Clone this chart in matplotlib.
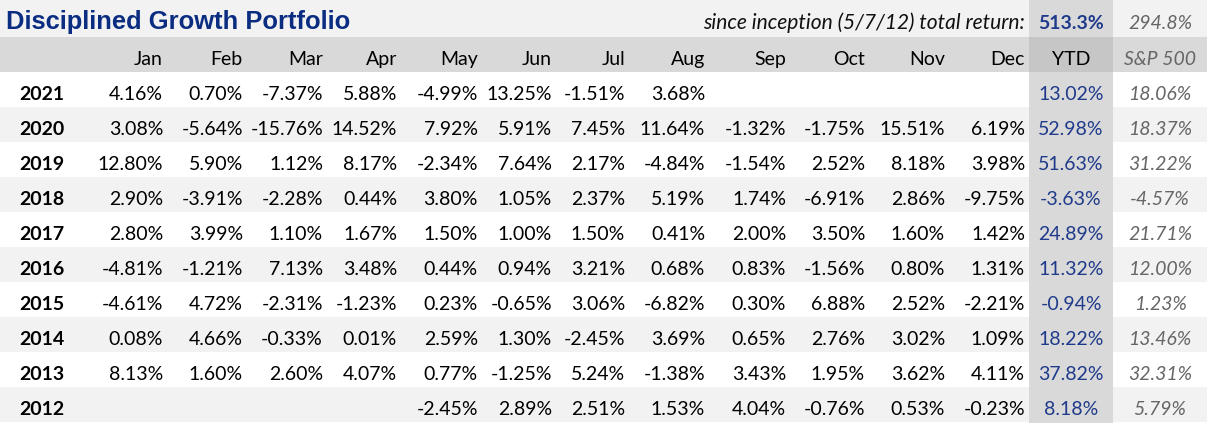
import matplotlib.pyplot as plt
import numpy as np

years = ["2021", "2020", "2019", "2018", "2017", "2016", "2015", "2014", "2013", "2012"]
months = ["Jan", "Feb", "Mar", "Apr", "May", "Jun", "Jul", "Aug", "Sep", "Oct", "Nov", "Dec"]
nan = np.nan
monthly = np.array([
    [4.16, 0.70, -7.37, 5.88, -4.99, 13.25, -1.51, 3.68, nan, nan, nan, nan],
    [3.08, -5.64, -15.76, 14.52, 7.92, 5.91, 7.45, 11.64, -1.32, -1.75, 15.51, 6.19],
    [12.80, 5.90, 1.12, 8.17, -2.34, 7.64, 2.17, -4.84, -1.54, 2.52, 8.18, 3.98],
    [2.90, -3.91, -2.28, 0.44, 3.80, 1.05, 2.37, 5.19, 1.74, -6.91, 2.86, -9.75],
    [2.80, 3.99, 1.10, 1.67, 1.50, 1.00, 1.50, 0.41, 2.00, 3.50, 1.60, 1.42],
    [-4.81, -1.21, 7.13, 3.48, 0.44, 0.94, 3.21, 0.68, 0.83, -1.56, 0.80, 1.31],
    [-4.61, 4.72, -2.31, -1.23, 0.23, -0.65, 3.06, -6.82, 0.30, 6.88, 2.52, -2.21],
    [0.08, 4.66, -0.33, 0.01, 2.59, 1.30, -2.45, 3.69, 0.65, 2.76, 3.02, 1.09],
    [8.13, 1.60, 2.60, 4.07, 0.77, -1.25, 5.24, -1.38, 3.43, 1.95, 3.62, 4.11],
    [nan, nan, nan, nan, -2.45, 2.89, 2.51, 1.53, 4.04, -0.76, 0.53, -0.23],
])
ytd = [13.02, 52.98, 51.63, -3.63, 24.89, 11.32, -0.94, 18.22, 37.82, 8.18]
sp500 = [18.06, 18.37, 31.22, -4.57, 21.71, 12.00, 1.23, 13.46, 32.31, 5.79]
total_return = 513.3
sp_total = 294.8

W, H = 1207, 423
TITLE_H, HEAD_H, ROW_H = 37, 35, 35
month_right = [163, 243, 323, 397, 478, 552, 625, 705, 786, 865, 945, 1025]
ytd_left, ytd_right = 1029, 1113
ytd_x = (ytd_left + ytd_right) / 2
sp_x = 1160
year_x = 42

BODY = "Lato"
px = 72 / 100  # px -> pt
fs = 19.5 * px
blue = "#1f3a8a"
title_blue = "#0a2d82"
grey_txt = "#666666"
ink = "#000000"

fig = plt.figure(figsize=(W / 100, H / 100), dpi=100)
ax = fig.add_axes([0, 0, 1, 1])
ax.set_xlim(0, W)
ax.set_ylim(H, 0)
ax.axis("off")

# backgrounds
ax.axhspan(0, TITLE_H, color="#f2f2f2", lw=0)
ax.axhspan(TITLE_H, TITLE_H + HEAD_H, color="#d9d9d9", lw=0)
for i in range(len(years)):
    top = TITLE_H + HEAD_H + i * ROW_H
    ax.axhspan(top, top + ROW_H, color="#ffffff" if i % 2 == 0 else "#f2f2f2", lw=0)
ax.add_patch(plt.Rectangle((ytd_left, 0), ytd_right - ytd_left, H, color="#d9d9d9", lw=0))
ax.add_patch(plt.Rectangle((ytd_left, TITLE_H), ytd_right - ytd_left, HEAD_H, color="#c6c6c6", lw=0))

# title row
ax.text(6, TITLE_H - 8, "Disciplined Growth Portfolio", fontsize=25.5 * px, fontweight="bold",
        family="Liberation Sans", color=title_blue, va="baseline", ha="left")
ax.text(1025, TITLE_H - 8, "since inception (5/7/12) total return:", fontsize=21 * px,
        style="italic", family=BODY, color="#111111", va="baseline", ha="right")
ax.text(ytd_x, TITLE_H - 8, f"{total_return:.1f}%", fontsize=fs, fontweight="bold",
        family=BODY, color=blue, va="baseline", ha="center")
ax.text(sp_x, TITLE_H - 8, f"{sp_total:.1f}%", fontsize=fs, style="italic",
        family=BODY, color=grey_txt, va="baseline", ha="center")

# header
hb = TITLE_H + HEAD_H - 7
for m, xr in zip(months, month_right):
    ax.text(xr, hb, m, fontsize=fs, family=BODY, color=ink, va="baseline", ha="right")
ax.text(ytd_x, hb, "YTD", fontsize=fs, family=BODY, color=ink, va="baseline", ha="center")
ax.text(sp_x, hb, "S&P 500", fontsize=fs, style="italic", family=BODY, color=grey_txt,
        va="baseline", ha="center")

# body
for i, yr in enumerate(years):
    base = TITLE_H + HEAD_H + (i + 1) * ROW_H - 7
    ax.text(year_x, base, yr, fontsize=fs, fontweight="bold", family=BODY, color=ink,
            va="baseline", ha="center")
    for j, xr in enumerate(month_right):
        v = monthly[i, j]
        if np.isnan(v):
            continue
        ax.text(xr, base, f"{v:.2f}%", fontsize=fs, family=BODY, color=ink,
                va="baseline", ha="right")
    ax.text(ytd_x, base, f"{ytd[i]:.2f}%", fontsize=fs, family=BODY, color=blue,
            va="baseline", ha="center")
    ax.text(sp_x, base, f"{sp500[i]:.2f}%", fontsize=fs, style="italic", family=BODY,
            color=grey_txt, va="baseline", ha="center")

fig.savefig("out.png", dpi=100)
